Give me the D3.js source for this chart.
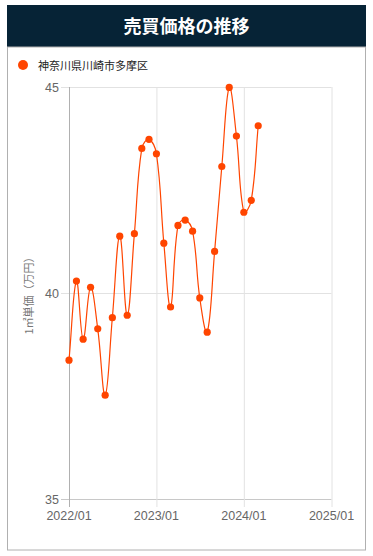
<!DOCTYPE html>
<html><head><meta charset="utf-8">
<script src="https://cdn.jsdelivr.net/npm/d3@7"></script>
<style>
html,body{margin:0;padding:0;background:#fff;}
svg{display:block;}
</style></head>
<body>
<svg id="c" width="373" height="556"></svg>
<script>
const title = "売買価格の推移";
const seriesName = "神奈川県川崎市多摩区";
const yTitle = "1㎡単価（万円）";
const months = ["2022/01","2022/02","2022/03","2022/04","2022/05","2022/06","2022/07","2022/08","2022/09","2022/10","2022/11","2022/12",
"2023/01","2023/02","2023/03","2023/04","2023/05","2023/06","2023/07","2023/08","2023/09","2023/10","2023/11","2023/12",
"2024/01","2024/02","2024/03"];
const values = [38.37,40.29,38.88,40.14,39.13,37.52,39.40,41.38,39.46,41.44,43.51,43.73,
43.38,41.21,39.66,41.64,41.77,41.50,39.88,39.05,41.01,43.07,44.99,43.81,
41.96,42.25,44.06];
const xTicks = ["2022/01","2023/01","2024/01","2025/01"];
const yTicks = [35,40,45];

const svg = d3.select("#c");
const parse = d3.timeParse("%Y/%m");
const L=69, R=331.5, T=87, B=499;
const x = d3.scaleTime().domain([parse("2022/01"), parse("2025/01")]).range([L,R]);
const y = d3.scaleLinear().domain([35,45]).range([B,T]);

// header
svg.append("rect").attr("x",7).attr("y",5).attr("width",359).attr("height",42).attr("fill","#062336");
svg.append("text").attr("x",186.5).attr("y",32.5).attr("text-anchor","middle")
  .attr("fill","#fff").attr("font-family","'Noto Sans CJK JP'").attr("font-weight","bold").attr("font-size",18).text(title);
// box
svg.append("rect").attr("x",7.5).attr("y",47).attr("width",358).attr("height",503)
  .attr("fill","none").attr("stroke","#b0b0b0").attr("stroke-width",1);

// legend
svg.append("circle").attr("cx",23).attr("cy",65).attr("r",5).attr("fill","#ff4500");
svg.append("text").attr("x",38).attr("y",69.5).attr("font-family","'Noto Sans CJK JP'").attr("font-size",11)
  .attr("fill","#222").text(seriesName);

// grid
const g = svg.append("g");
yTicks.forEach(v=>{
  g.append("line").attr("x1",L-8).attr("x2",R).attr("y1",y(v)+0.5).attr("y2",y(v)+0.5)
    .attr("stroke", v===35 ? "#c8c8c8" : "#e2e2e2");
  g.append("text").attr("x",L-10).attr("y",y(v)+4.5).attr("text-anchor","end")
    .attr("font-family","'Liberation Sans',Arial").attr("font-size",12.5).attr("fill","#666").text(v);
});
xTicks.forEach((t,i)=>{
  const px = x(parse(t));
  g.append("line").attr("x1",px+0.5).attr("x2",px+0.5).attr("y1",T).attr("y2",B+8)
    .attr("stroke", i===0 ? "#b0b0b0" : "#e2e2e2");
  g.append("text").attr("x",px).attr("y",B+21).attr("text-anchor","middle")
    .attr("font-family","'Liberation Sans',Arial").attr("font-size",12.5).attr("fill","#666").text(t);
});

// y title
svg.append("text").attr("transform",`translate(33,${(T+B)/2}) rotate(-90)`).attr("text-anchor","middle")
  .attr("font-family","'Noto Sans CJK JP'").attr("font-size",11).attr("fill","#777").text(yTitle);

// Chart.js-style spline curve (tension 0.4)
function chartjsCurve(context){
  return {
    pts: [],
    areaStart(){}, areaEnd(){},
    lineStart(){ this.pts=[]; },
    point(px,py){ this.pts.push([px,py]); },
    lineEnd(){
      const p=this.pts, t=0.4, n=p.length;
      const cps = p.map((m,i)=>{
        const f = p[Math.max(0,i-1)], a = p[Math.min(n-1,i+1)];
        const d01 = Math.hypot(m[0]-f[0], m[1]-f[1]);
        const d12 = Math.hypot(a[0]-m[0], a[1]-m[1]);
        let s01 = d01/(d01+d12), s12 = d12/(d01+d12);
        if(isNaN(s01)) s01=0; if(isNaN(s12)) s12=0;
        const fa=t*s01, fb=t*s12;
        return {prev:[m[0]-fa*(a[0]-f[0]), m[1]-fa*(a[1]-f[1])],
                next:[m[0]+fb*(a[0]-f[0]), m[1]+fb*(a[1]-f[1])]};
      });
      context.moveTo(p[0][0],p[0][1]);
      for(let i=1;i<n;i++){
        context.bezierCurveTo(cps[i-1].next[0],cps[i-1].next[1],cps[i].prev[0],cps[i].prev[1],p[i][0],p[i][1]);
      }
    }
  };
}
const data = months.map((m,i)=>({d:parse(m), v:values[i]}));
const line = d3.line().x(d=>x(d.d)).y(d=>y(d.v)).curve(chartjsCurve);
svg.append("path").datum(data).attr("d",line).attr("fill","none").attr("stroke","#ff4500").attr("stroke-width",1.2);
svg.selectAll("circle.pt").data(data).join("circle").attr("class","pt")
  .attr("cx",d=>x(d.d)).attr("cy",d=>y(d.v)).attr("r",3.6).attr("fill","#ff4500");
</script>
</body></html>
